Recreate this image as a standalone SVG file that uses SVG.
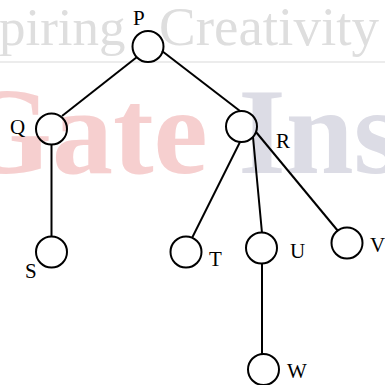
<svg xmlns="http://www.w3.org/2000/svg" width="385" height="385" viewBox="0 0 385 385">
<style>
.node circle{fill:none;stroke:#000;stroke-width:2}
.node text{font-family:"Liberation Serif","Times New Roman",serif;font-size:21px;fill:#000}
.edges line{stroke:#000;stroke-width:2}
.wm{font-family:"Liberation Serif","Times New Roman",serif}
</style>
<rect width="385" height="385" fill="#fff"/>
<g id="watermark">
<text class="wm" x="-1" y="45" font-size="53" fill="#dedede">piring <tspan x="159" font-size="55">Creativity</tspan></text>
<rect x="0" y="61" width="385" height="2" fill="#ececec"/>
<text class="wm" x="-43" y="173" font-size="122" font-weight="bold" fill="#f6cfcf">Gate <tspan fill="#dcdce5">Ins</tspan></text>
</g>
<g class="edges" id="connectors">
<line x1="137" y1="57" x2="62" y2="116"/>
<line x1="162" y1="51" x2="240" y2="111"/>
<line x1="51.5" y1="145" x2="51.5" y2="237"/>
<line x1="240" y1="142" x2="192" y2="238"/>
<line x1="253" y1="137" x2="262" y2="233"/>
<line x1="256" y1="132" x2="338" y2="231"/>
<line x1="262" y1="264" x2="262" y2="354"/>
</g>
<g class="node" id="P"><circle cx="148" cy="46.5" r="15.5"/><text x="133" y="25">P</text></g>
<g class="node" id="Q"><circle cx="51.5" cy="129" r="15.5"/><text x="10" y="134">Q</text></g>
<g class="node" id="R"><circle cx="241.5" cy="126.5" r="15.5"/><text x="276" y="148">R</text></g>
<g class="node" id="S"><circle cx="51.5" cy="252" r="15.5"/><text x="25" y="278">S</text></g>
<g class="node" id="T"><circle cx="186" cy="252" r="15.5"/><text x="209" y="266">T</text></g>
<g class="node" id="U"><circle cx="261.5" cy="248" r="15.5"/><text x="290" y="258">U</text></g>
<g class="node" id="V"><circle cx="347" cy="243" r="15.5"/><text x="370" y="252">V</text></g>
<g class="node" id="W"><circle cx="263.5" cy="369.5" r="15.5"/><text x="287" y="378">W</text></g>
</svg>
